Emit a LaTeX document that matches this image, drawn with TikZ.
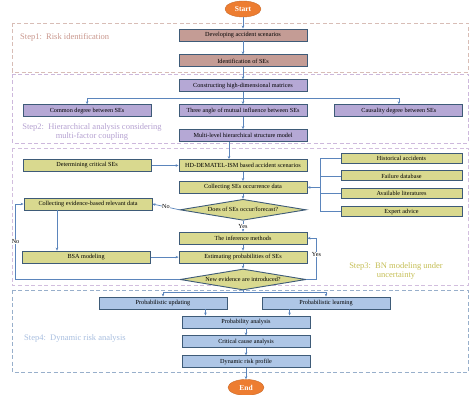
\documentclass[tikz,border=0pt]{standalone}
\usepackage{fontspec}
\setmainfont{Liberation Serif}
\usetikzlibrary{shapes.geometric, arrows.meta, positioning}

\definecolor{stepone}{HTML}{C49C95}
\definecolor{steptwo}{HTML}{B5A8D5}
\definecolor{stepthree}{HTML}{D9D98F}
\definecolor{stepfour}{HTML}{AEC6E6}
\definecolor{boxline}{HTML}{3E5B78}
\definecolor{flowline}{HTML}{5B85BC}
\definecolor{startend}{HTML}{ED7D31}
\definecolor{frameone}{HTML}{D8BDB6}
\definecolor{frametwo}{HTML}{CDB8DC}
\definecolor{framethree}{HTML}{D2BEDE}
\definecolor{framefour}{HTML}{98AFCB}
\definecolor{labelone}{HTML}{C8968C}
\definecolor{labeltwo}{HTML}{B4A0D0}
\definecolor{labelthree}{HTML}{C5BE55}
\definecolor{labelfour}{HTML}{A8BEDF}

\begin{document}
\begin{tikzpicture}[x=1pt, y=-1pt, font=\fontsize{6.2}{7}\selectfont,
    flowbox/.style={draw=boxline, line width=0.9pt, minimum width=128pt, minimum height=12pt, inner sep=0pt},
    srcbox/.style={flowbox, fill=stepthree, minimum width=121pt, minimum height=10pt},
    decision/.style={diamond, aspect=6, draw=boxline, line width=0.9pt, fill=stepthree, minimum width=126pt, minimum height=21pt, inner sep=0pt},
    terminal/.style={ellipse, fill=startend, draw=startend!85!black, line width=0.4pt, minimum width=36pt, minimum height=16pt, inner sep=0pt, text=white, font=\fontsize{7.5}{8}\selectfont\bfseries},
    flow/.style={draw=flowline, line width=0.7pt, -{Stealth[length=3pt, width=2.6pt]}},
    plainline/.style={draw=flowline, line width=0.7pt},
    tag/.style={fill=white, inner sep=0.6pt},
    stepframe/.style={line width=0.7pt, dash pattern=on 4pt off 2.5pt},
    steplabel/.style={font=\fontsize{8.5}{9.5}\selectfont, align=center, inner sep=0pt}]
    \useasboundingbox (0,0) rectangle (471,395);

    % Step 1
    \draw[stepframe, draw=frameone] (12,23) rectangle (468,72);
    \node[steplabel, text=labelone, anchor=west] (labone) at (20,37) {Step1:\enspace Risk identification};
    \node[terminal] (start) at (243,9) {Start};
    \node[flowbox, fill=stepone] (dev) at (243,35) {Developing accident scenarios};
    \node[flowbox, fill=stepone, below=13pt of dev] (ident) {Identification of SEs};

    % Step 2
    \draw[stepframe, draw=frametwo] (12,74) rectangle (468,143);
    \node[flowbox, fill=steptwo, below=12pt of ident] (constr) {Constructing high-dimensional matrices};
    \node[flowbox, fill=steptwo, below=12pt of constr] (three) {Three angle of mutual influence between SEs};
    \node[flowbox, fill=steptwo, left=27pt of three] (common) {Common degree between SEs};
    \node[flowbox, fill=steptwo, right=27pt of three] (causal) {Causality degree between SEs};
    \node[flowbox, fill=steptwo, below=12pt of three] (multi) {Multi-level hierarchical structure model};
    \node[steplabel, text=labeltwo] (labtwo) at (92,132) {Step2:\enspace Hierarchical analysis considering\\multi-factor coupling};

    % Step 3
    \draw[stepframe, draw=framethree] (12,148) rectangle (468,285);
    \node[flowbox, fill=stepthree, below=17pt of multi] (hd) {HD-DEMATEL-ISM based accident scenarios};
    \node[flowbox, fill=stepthree, left=27pt of hd] (determ) {Determining critical SEs};
    \node[flowbox, fill=stepthree, below=9pt of hd] (collect) {Collecting SEs occurrence data};
    \node[decision, below=5pt of collect] (occur) {Does of SEs occur/forecast?};
    \node[flowbox, fill=stepthree] (evid) at (88,204) {Collecting evidence-based relevant data};
    \node[flowbox, fill=stepthree, below=11pt of occur] (infer) {The inference methods};
    \node[flowbox, fill=stepthree, below=6pt of infer] (estim) {Estimating probabilities of SEs};
    \node[decision, below=5pt of estim] (newev) {New evidence are introduced?};
    \node[flowbox, fill=stepthree, left=28pt of estim] (bsa) {BSA modeling};
    \node[srcbox] (hist) at (401.5,158) {Historical accidents};
    \node[srcbox, below=7pt of hist] (fail) {Failure database};
    \node[srcbox, below=7pt of fail] (avail) {Available literatures};
    \node[srcbox, below=7pt of avail] (expert) {Expert advice};
    \node[steplabel, text=labelthree] (labthree) at (396,271) {Step3:\enspace BN modeling under\\uncertainty};

    % Step 4
    \draw[stepframe, draw=framefour] (12,290) rectangle (468,372);
    \node[flowbox, fill=stepfour] (prob) at (246,322) {Probability analysis};
    \node[flowbox, fill=stepfour, below=7pt of prob] (crit) {Critical cause analysis};
    \node[flowbox, fill=stepfour, below=7pt of crit] (dyn) {Dynamic risk profile};
    \node[flowbox, fill=stepfour] (upd) at (163,303) {Probabilistic updating};
    \node[flowbox, fill=stepfour] (learn) at (326,303) {Probabilistic learning};
    \node[steplabel, text=labelfour, anchor=west] (labfour) at (24,338) {Step4:\enspace Dynamic risk analysis};
    \node[terminal, below=11pt of dyn] (stop) {End};

    % connectors
    \draw[flow] (start) -- (dev);
    \draw[flow] (dev) -- (ident);
    \draw[flow] (ident) -- (constr);
    \draw[flow] (constr) -- (three);
    \draw[flow] (constr.south) -- ++(0,6) -| (common.north);
    \draw[flow] (constr.south) -- ++(0,6) -| (causal.north);
    \draw[flow] (three) -- (multi);
    \draw[flow] ([xshift=-14pt]multi.south) -- ([xshift=-14pt]hd.north);
    \draw[flow] (determ) -- (hd);
    \draw[flow] (hd) -- (collect);
    \coordinate (bus) at ([xshift=13pt]collect.east);
    \foreach \src in {hist, fail, avail, expert}
        \draw[plainline] (\src.west) -| (bus);
    \draw[flow] (bus) -- (collect.east);
    \draw[flow] (collect) -- (occur);
    \draw[flow] (occur.west) -- node[tag] {No} (evid.east);
    \draw[flow] (occur.south) -- node[tag] {Yes} (infer.north);
    \draw[flow] (evid.south -| 57,0) -- (bsa.north -| 57,0);
    \draw[flow] (bsa) -- (estim);
    \draw[flow] (infer) -- (estim);
    \draw[flow] (estim) -- (newev);
    \draw[flow] (newev.east) -- ++(10,0) |- node[tag, pos=0.3] {Yes} (infer.east);
    \coordinate (loopl) at ([xshift=-8pt]evid.west);
    \draw[flow] (newev.west) -| node[tag, pos=0.75] {No} (loopl) -- (evid.west);
    \coordinate (split) at (243,292);
    \draw[plainline] (newev.south) -- (split);
    \draw[flow] (split) -| (upd.north);
    \draw[flow] (split) -| (learn.north);
    \draw[flow] ([xshift=-22pt]upd.south east) -- ([xshift=-22pt]upd.south east |- prob.north);
    \draw[flow] ([xshift=28pt]learn.south west) -- ([xshift=28pt]learn.south west |- prob.north);
    \draw[flow] (prob) -- (crit);
    \draw[flow] (crit) -- (dyn);
    \draw[flow] (dyn) -- (stop);
\end{tikzpicture}
\end{document}
